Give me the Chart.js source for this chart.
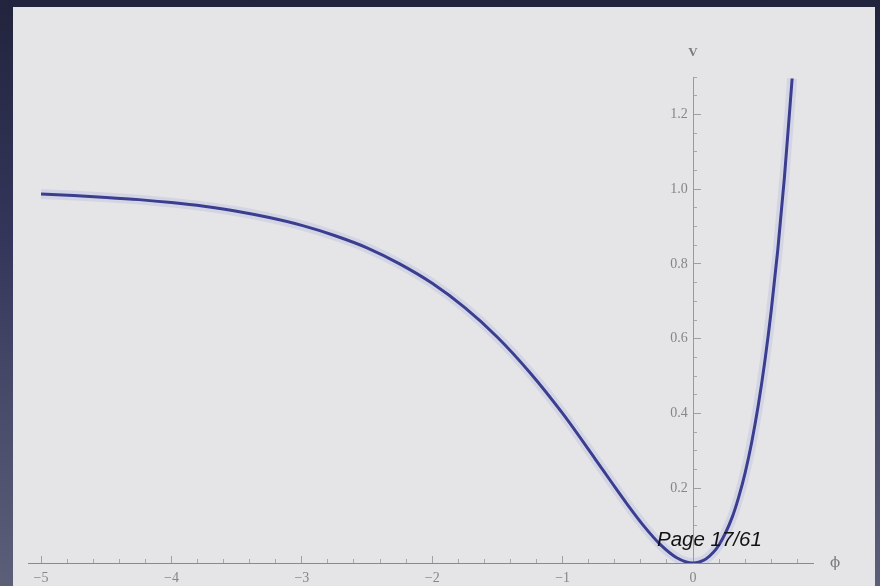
<!DOCTYPE html>
<html>
<head>
<meta charset="utf-8">
<script src="https://cdn.jsdelivr.net/npm/chart.js@4"></script>
<style>
  html, body { margin: 0; padding: 0; width: 880px; height: 586px; overflow: hidden; }
  body { background: linear-gradient(180deg, #22243d 0%, #33365a 40%, #4c4f6c 75%, #5c5f78 100%); position: relative; }
  #panel { position: absolute; left: 13px; top: 7px; width: 862px; height: 579px; background: #e5e5e7; }
  #wrap { position: absolute; left: 0; top: 0; width: 880px; height: 586px; }
  #page { position: absolute; left: 657px; top: 527px; font-family: "Liberation Sans", Arial, sans-serif; font-style: italic; font-size: 20.5px; color: #111; white-space: nowrap; }
</style>
</head>
<body>
<div id="panel"></div>
<div id="wrap"><canvas id="c" width="880" height="586"></canvas></div>
<div id="page">Page 17/61</div>
<script>
// Potential V(φ)
const phi = [-5.0, -4.75, -4.5, -4.25, -4.0, -3.75, -3.5, -3.25, -3.0, -2.75, -2.5, -2.25, -2.0, -1.75, -1.5, -1.25, -1.0, -0.75, -0.625, -0.5, -0.375, -0.25, -0.125, 0.0, 0.05, 0.1, 0.2, 0.3, 0.35, 0.4, 0.45, 0.5, 0.55, 0.6, 0.65, 0.7, 0.76];
const V   = [0.987, 0.983, 0.978, 0.972, 0.964, 0.954, 0.941, 0.924, 0.903, 0.876, 0.843, 0.800, 0.748, 0.683, 0.604, 0.509, 0.400, 0.278, 0.216, 0.155, 0.098, 0.049, 0.014, 0.0, 0.003, 0.011, 0.049, 0.122, 0.176, 0.242, 0.323, 0.421, 0.538, 0.676, 0.838, 1.028, 1.296];

// Axis ticks and labels
const xMajorTicks = [-5, -4, -3, -2, -1, 0];
const xTickLabels = ['−5', '−4', '−3', '−2', '−1', '0'];
const xMinorTicks = [-4.8, -4.6, -4.4, -4.2, -3.8, -3.6, -3.4, -3.2, -2.8, -2.6, -2.4, -2.2, -1.8, -1.6, -1.4, -1.2, -0.8, -0.6, -0.4, -0.2, 0.2, 0.4, 0.6, 0.8];
const yMajorTicks = [0.2, 0.4, 0.6, 0.8, 1.0, 1.2];
const yTickLabels = ['0.2', '0.4', '0.6', '0.8', '1.0', '1.2'];
const yMinorTicks = [0.05, 0.1, 0.15, 0.25, 0.3, 0.35, 0.45, 0.5, 0.55, 0.65, 0.7, 0.75, 0.85, 0.9, 0.95, 1.05, 1.1, 1.15, 1.25, 1.3];
const xTitle = 'ϕ';
const yTitle = 'V';

const xRange = { min: -5.1, max: 0.92 };
const yRange = { min: 0, max: 1.3 };

const pts = phi.map((p, i) => ({ x: p, y: V[i] }));
const tickFont = { family: '"Liberation Serif", "DejaVu Serif", serif', size: 14 };
const tickGray = '#868686';

function setTicks(arr) { return s => { s.ticks = arr.map(v => ({ value: v })); }; }

const titlePlugin = {
  id: 'axisTitles',
  afterDraw(chart) {
    const ctx = chart.ctx, a = chart.chartArea;
    const xs = chart.scales.x, ys = chart.scales.y;
    ctx.save();
    ctx.fillStyle = '#7a7a7a';
    ctx.font = 'bold 13px "Liberation Serif", serif';
    ctx.textAlign = 'center';
    ctx.textBaseline = 'middle';
    ctx.fillText(yTitle, xs.getPixelForValue(0), a.top - 24);
    ctx.font = '15px "DejaVu Serif", serif';
    ctx.fillText(xTitle, a.right + 22, ys.getPixelForValue(0));
    ctx.restore();
  }
};

new Chart(document.getElementById('c'), {
  type: 'scatter',
  data: {
    datasets: [
      { data: pts, showLine: true, borderColor: '#3b3e8e', borderWidth: 3, pointRadius: 0, cubicInterpolationMode: 'monotone', order: 1 },
      { data: pts, showLine: true, borderColor: 'rgba(150,158,225,0.22)', borderWidth: 10, pointRadius: 0, cubicInterpolationMode: 'monotone', order: 2 }
    ]
  },
  options: {
    responsive: false,
    animation: false,
    layout: { padding: { left: 28, right: 67, top: 77, bottom: 23 } },
    plugins: { legend: { display: false }, tooltip: { enabled: false } },
    scales: {
      x: {
        type: 'linear', axis: 'x', position: { y: 0 }, ...xRange,
        afterBuildTicks: setTicks(xMajorTicks),
        grid: { display: true, drawOnChartArea: false, drawTicks: true, tickLength: -8, tickColor: '#a0a0a0', tickWidth: 1 },
        border: { display: true, color: '#8a8a8a', width: 1 },
        ticks: { padding: 15, color: tickGray, font: tickFont, maxRotation: 0, autoSkip: false,
                 callback: (v, i) => xTickLabels[i] }
      },
      xMinor: {
        type: 'linear', axis: 'x', position: { y: 0 }, ...xRange,
        afterBuildTicks: setTicks(xMinorTicks),
        grid: { display: true, drawOnChartArea: false, drawTicks: true, tickLength: -4, tickColor: '#a8a8a8', tickWidth: 1 },
        border: { display: false },
        ticks: { display: false, autoSkip: false }
      },
      y: {
        type: 'linear', axis: 'y', position: { x: 0 }, ...yRange,
        afterBuildTicks: setTicks(yMajorTicks),
        grid: { display: true, drawOnChartArea: false, drawTicks: true, tickLength: -8, tickColor: '#a0a0a0', tickWidth: 1 },
        border: { display: true, color: '#9a9a9a', width: 1 },
        ticks: { display: false, autoSkip: false }
      },
      yMinor: {
        type: 'linear', axis: 'y', position: { x: 0 }, ...yRange,
        afterBuildTicks: setTicks(yMinorTicks),
        grid: { display: true, drawOnChartArea: false, drawTicks: true, tickLength: -4, tickColor: '#a8a8a8', tickWidth: 1 },
        border: { display: false },
        ticks: { display: false, autoSkip: false }
      },
      yLabels: {
        type: 'linear', axis: 'y', position: { x: -0.04 }, ...yRange,
        afterBuildTicks: setTicks(yMajorTicks),
        grid: { display: false, drawTicks: false },
        border: { display: false },
        ticks: { padding: 0, color: tickGray, font: tickFont, autoSkip: false,
                 callback: (v, i) => yTickLabels[i] }
      }
    }
  },
  plugins: [titlePlugin]
});
</script>
</body>
</html>
